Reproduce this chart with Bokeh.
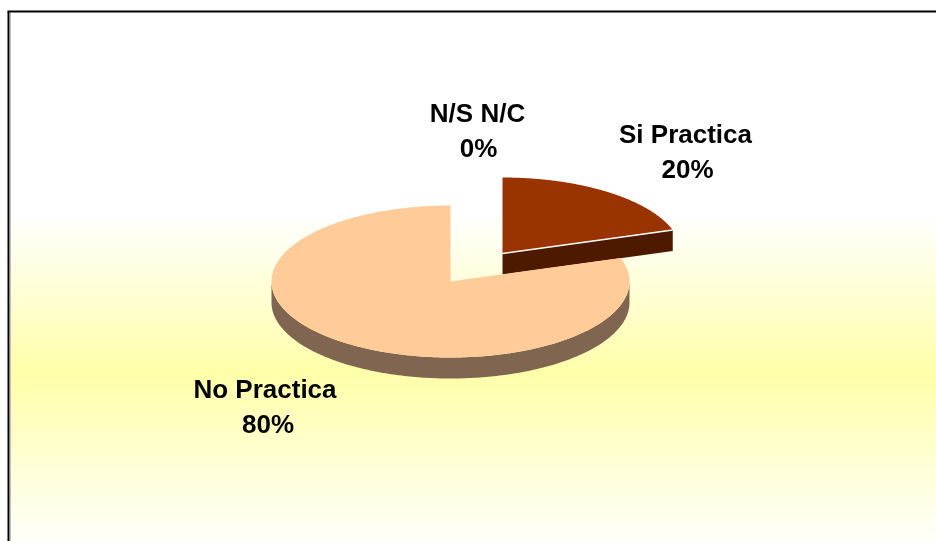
import numpy as np
from bokeh.plotting import figure
from bokeh.core.properties import value
from bokeh.embed import file_html
from bokeh.resources import INLINE

categories = ["Si Practica", "No Practica", "N/S N/C"]
values = [20, 80, 0]
top_colors = ["#993300", "#FFCC99", "#FFFFFF"]
side_colors = ["#4D1A00", "#806650", "#808080"]

W, H = 936, 541
p = figure(width=W, height=H, x_range=(0, W), y_range=(H, 0),
           output_backend="svg", toolbar_location=None, min_border=0,
           outline_line_color=None, border_fill_color="white",
           background_fill_color="white")
p.axis.visible = False
p.grid.visible = False
p.styles = {"position": "fixed", "left": "0px", "top": "0px"}

# Background gradient: white -> soft yellow -> white
grad_top, grad_start, grad_peak, grad_end = 12, 215, 372, 550
peak_blue = 140
rows = np.arange(grad_top, H)
t = np.where(rows < grad_peak,
             np.clip((rows - grad_start) / (grad_peak - grad_start), 0, 1),
             np.clip((grad_end - rows) / (grad_end - grad_peak), 0, 1))
blue = (255 - t * (255 - peak_blue)).round().astype(int)
p.quad(left=9, right=W, top=rows, bottom=rows + 1,
       fill_color=[f"#FFFF{b:02X}" for b in blue], line_color=None)

# Frame
p.line([10, 10], [12, H], line_color="#C0C0C0", line_width=1)
p.line([8, 8], [H, 11], line_color="black", line_width=2)
p.line([7, W], [11, 11], line_color="black", line_width=2)

# Exploded pie geometry
RX, RY, DEPTH = 179, 76, 21
centers = {"Si Practica": (502, 253), "No Practica": (450, 281), "N/S N/C": (476, 267)}


def ell(c, a):
    return c[0] + RX * np.sin(a), c[1] - RY * np.cos(a)


fractions = np.cumsum([0] + values) / sum(values) * 2 * np.pi

# Side faces
for i, cat in enumerate(categories):
    if values[i] == 0:
        continue
    c = centers[cat]
    a0, a1 = fractions[i], fractions[i + 1]
    # visible cut face at the end of the first slice
    if a1 < np.pi / 2:
        x1, y1 = ell(c, a1)
        p.patch([c[0], x1, x1, c[0]], [c[1], y1, y1 + DEPTH, c[1] + DEPTH],
                fill_color=side_colors[i], line_color=None)
    # visible rim: the front half of the ellipse
    lo, hi = max(a0, np.pi / 2), min(a1, 3 * np.pi / 2)
    if hi > lo:
        a = np.linspace(lo, hi, 200)
        x, y = ell(c, a)
        p.patch(np.r_[x, x[::-1]], np.r_[y, y[::-1] + DEPTH],
                fill_color=side_colors[i], line_color=None)

# Top faces
for i, cat in enumerate(categories):
    if values[i] == 0:
        continue
    c = centers[cat]
    a = np.linspace(fractions[i], fractions[i + 1], 300)
    x, y = ell(c, a)
    p.patch(np.r_[c[0], x], np.r_[c[1], y], fill_color=top_colors[i], line_color=None)
    if fractions[i + 1] < np.pi / 2:
        x1, y1 = ell(c, fractions[i + 1])
        p.line([c[0], x1], [c[1], y1], line_color="white", line_width=1.5)

# Labels
label_x = {"Si Practica": 685, "No Practica": 264.5, "N/S N/C": 477}
label_y = {"Si Practica": 133, "No Practica": 388, "N/S N/C": 112}
pct_dx = {"Si Practica": 2, "No Practica": 3, "N/S N/C": 1}
LINE_GAP = 35
for cat, v in zip(categories, values):
    for k, s in enumerate([cat, f"{v}%"]):
        p.text([label_x[cat] + (pct_dx[cat] if k else 0)], [label_y[cat] + k * LINE_GAP], text=[s],
               text_font=value("Liberation Sans"), text_font_style="bold",
               text_font_size="26px", text_color="black",
               text_align="center", text_baseline="alphabetic")

open("out.html", "w").write(file_html(p, INLINE))
